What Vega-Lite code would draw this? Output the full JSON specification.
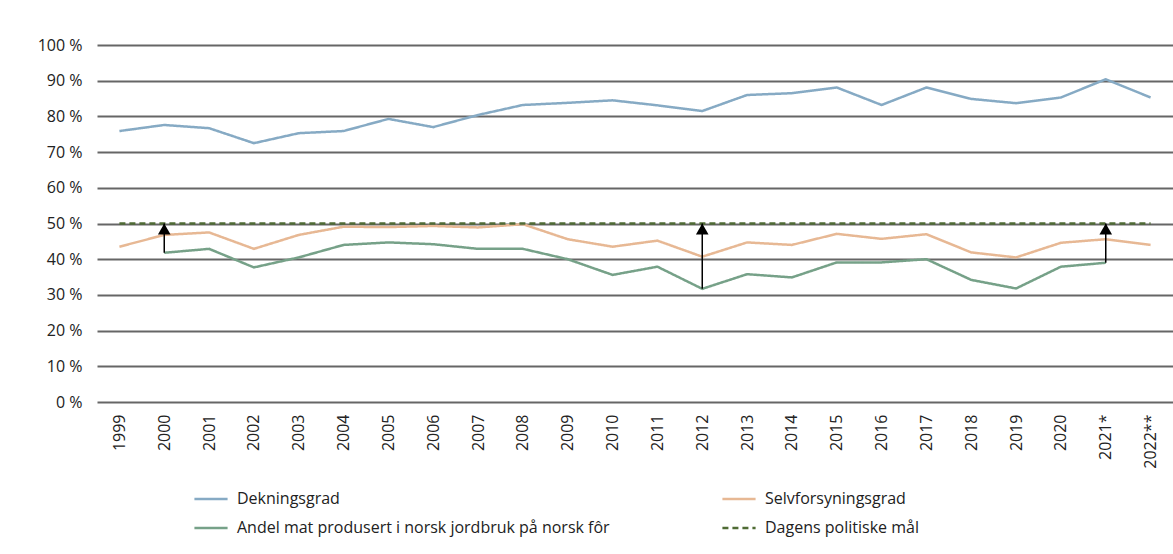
{
  "$schema": "https://vega.github.io/schema/vega-lite/v6.json",
  "autosize": "none",
  "width": 1076,
  "height": 357,
  "padding": {"left": 97, "top": 45, "right": 0, "bottom": 152},
  "background": "white",
  "config": {
    "font": "Open Sans",
    "view": {"stroke": null},
    "axis": {"labelFont": "Open Sans", "labelColor": "#222", "labelFontSize": 16, "labelOverlap": false},
    "axisY": {
      "title": null,
      "values": [0,10,20,30,40,50,60,70,80,90,100],
      "labelExpr": "datum.value + ' %'",
      "labelOverlap": false,
      "ticks": false,
      "domain": false,
      "labelPadding": 15,
      "grid": true,
      "gridColor": "#666666",
      "gridWidth": 2
    }
  },
  "datasets": {
    "serier": [
      {"aar": "1999", "serie": "Dekningsgrad", "verdi": 75.9},
      {"aar": "2000", "serie": "Dekningsgrad", "verdi": 77.6},
      {"aar": "2001", "serie": "Dekningsgrad", "verdi": 76.7},
      {"aar": "2002", "serie": "Dekningsgrad", "verdi": 72.5},
      {"aar": "2003", "serie": "Dekningsgrad", "verdi": 75.3},
      {"aar": "2004", "serie": "Dekningsgrad", "verdi": 75.9},
      {"aar": "2005", "serie": "Dekningsgrad", "verdi": 79.3},
      {"aar": "2006", "serie": "Dekningsgrad", "verdi": 77.0},
      {"aar": "2007", "serie": "Dekningsgrad", "verdi": 80.4},
      {"aar": "2008", "serie": "Dekningsgrad", "verdi": 83.2},
      {"aar": "2009", "serie": "Dekningsgrad", "verdi": 83.8},
      {"aar": "2010", "serie": "Dekningsgrad", "verdi": 84.5},
      {"aar": "2011", "serie": "Dekningsgrad", "verdi": 83.1},
      {"aar": "2012", "serie": "Dekningsgrad", "verdi": 81.5},
      {"aar": "2013", "serie": "Dekningsgrad", "verdi": 86.0},
      {"aar": "2014", "serie": "Dekningsgrad", "verdi": 86.5},
      {"aar": "2015", "serie": "Dekningsgrad", "verdi": 88.1},
      {"aar": "2016", "serie": "Dekningsgrad", "verdi": 83.2},
      {"aar": "2017", "serie": "Dekningsgrad", "verdi": 88.1},
      {"aar": "2018", "serie": "Dekningsgrad", "verdi": 84.9},
      {"aar": "2019", "serie": "Dekningsgrad", "verdi": 83.7},
      {"aar": "2020", "serie": "Dekningsgrad", "verdi": 85.3},
      {"aar": "2021*", "serie": "Dekningsgrad", "verdi": 90.4},
      {"aar": "2022**", "serie": "Dekningsgrad", "verdi": 85.3},
      {"aar": "1999", "serie": "Selvforsyningsgrad", "verdi": 43.5},
      {"aar": "2000", "serie": "Selvforsyningsgrad", "verdi": 46.8},
      {"aar": "2001", "serie": "Selvforsyningsgrad", "verdi": 47.5},
      {"aar": "2002", "serie": "Selvforsyningsgrad", "verdi": 42.9},
      {"aar": "2003", "serie": "Selvforsyningsgrad", "verdi": 46.8},
      {"aar": "2004", "serie": "Selvforsyningsgrad", "verdi": 49.1},
      {"aar": "2005", "serie": "Selvforsyningsgrad", "verdi": 49.0},
      {"aar": "2006", "serie": "Selvforsyningsgrad", "verdi": 49.3},
      {"aar": "2007", "serie": "Selvforsyningsgrad", "verdi": 48.9},
      {"aar": "2008", "serie": "Selvforsyningsgrad", "verdi": 49.8},
      {"aar": "2009", "serie": "Selvforsyningsgrad", "verdi": 45.6},
      {"aar": "2010", "serie": "Selvforsyningsgrad", "verdi": 43.5},
      {"aar": "2011", "serie": "Selvforsyningsgrad", "verdi": 45.2},
      {"aar": "2012", "serie": "Selvforsyningsgrad", "verdi": 40.7},
      {"aar": "2013", "serie": "Selvforsyningsgrad", "verdi": 44.7},
      {"aar": "2014", "serie": "Selvforsyningsgrad", "verdi": 44.0},
      {"aar": "2015", "serie": "Selvforsyningsgrad", "verdi": 47.1},
      {"aar": "2016", "serie": "Selvforsyningsgrad", "verdi": 45.7},
      {"aar": "2017", "serie": "Selvforsyningsgrad", "verdi": 47.0},
      {"aar": "2018", "serie": "Selvforsyningsgrad", "verdi": 41.9},
      {"aar": "2019", "serie": "Selvforsyningsgrad", "verdi": 40.5},
      {"aar": "2020", "serie": "Selvforsyningsgrad", "verdi": 44.6},
      {"aar": "2021*", "serie": "Selvforsyningsgrad", "verdi": 45.6},
      {"aar": "2022**", "serie": "Selvforsyningsgrad", "verdi": 44.0},
      {"aar": "2000", "serie": "Andel mat produsert i norsk jordbruk på norsk fôr", "verdi": 41.8},
      {"aar": "2001", "serie": "Andel mat produsert i norsk jordbruk på norsk fôr", "verdi": 42.9},
      {"aar": "2002", "serie": "Andel mat produsert i norsk jordbruk på norsk fôr", "verdi": 37.7},
      {"aar": "2003", "serie": "Andel mat produsert i norsk jordbruk på norsk fôr", "verdi": 40.5},
      {"aar": "2004", "serie": "Andel mat produsert i norsk jordbruk på norsk fôr", "verdi": 44.0},
      {"aar": "2005", "serie": "Andel mat produsert i norsk jordbruk på norsk fôr", "verdi": 44.7},
      {"aar": "2006", "serie": "Andel mat produsert i norsk jordbruk på norsk fôr", "verdi": 44.2},
      {"aar": "2007", "serie": "Andel mat produsert i norsk jordbruk på norsk fôr", "verdi": 42.9},
      {"aar": "2008", "serie": "Andel mat produsert i norsk jordbruk på norsk fôr", "verdi": 42.9},
      {"aar": "2009", "serie": "Andel mat produsert i norsk jordbruk på norsk fôr", "verdi": 40.0},
      {"aar": "2010", "serie": "Andel mat produsert i norsk jordbruk på norsk fôr", "verdi": 35.6},
      {"aar": "2011", "serie": "Andel mat produsert i norsk jordbruk på norsk fôr", "verdi": 37.9},
      {"aar": "2012", "serie": "Andel mat produsert i norsk jordbruk på norsk fôr", "verdi": 31.7},
      {"aar": "2013", "serie": "Andel mat produsert i norsk jordbruk på norsk fôr", "verdi": 35.8},
      {"aar": "2014", "serie": "Andel mat produsert i norsk jordbruk på norsk fôr", "verdi": 34.9},
      {"aar": "2015", "serie": "Andel mat produsert i norsk jordbruk på norsk fôr", "verdi": 39.1},
      {"aar": "2016", "serie": "Andel mat produsert i norsk jordbruk på norsk fôr", "verdi": 39.1},
      {"aar": "2017", "serie": "Andel mat produsert i norsk jordbruk på norsk fôr", "verdi": 40.0},
      {"aar": "2018", "serie": "Andel mat produsert i norsk jordbruk på norsk fôr", "verdi": 34.2},
      {"aar": "2019", "serie": "Andel mat produsert i norsk jordbruk på norsk fôr", "verdi": 31.8},
      {"aar": "2020", "serie": "Andel mat produsert i norsk jordbruk på norsk fôr", "verdi": 37.9},
      {"aar": "2021*", "serie": "Andel mat produsert i norsk jordbruk på norsk fôr", "verdi": 39.0},
      {"aar": "1999", "serie": "Dagens politiske mål", "verdi": 50},
      {"aar": "2000", "serie": "Dagens politiske mål", "verdi": 50},
      {"aar": "2001", "serie": "Dagens politiske mål", "verdi": 50},
      {"aar": "2002", "serie": "Dagens politiske mål", "verdi": 50},
      {"aar": "2003", "serie": "Dagens politiske mål", "verdi": 50},
      {"aar": "2004", "serie": "Dagens politiske mål", "verdi": 50},
      {"aar": "2005", "serie": "Dagens politiske mål", "verdi": 50},
      {"aar": "2006", "serie": "Dagens politiske mål", "verdi": 50},
      {"aar": "2007", "serie": "Dagens politiske mål", "verdi": 50},
      {"aar": "2008", "serie": "Dagens politiske mål", "verdi": 50},
      {"aar": "2009", "serie": "Dagens politiske mål", "verdi": 50},
      {"aar": "2010", "serie": "Dagens politiske mål", "verdi": 50},
      {"aar": "2011", "serie": "Dagens politiske mål", "verdi": 50},
      {"aar": "2012", "serie": "Dagens politiske mål", "verdi": 50},
      {"aar": "2013", "serie": "Dagens politiske mål", "verdi": 50},
      {"aar": "2014", "serie": "Dagens politiske mål", "verdi": 50},
      {"aar": "2015", "serie": "Dagens politiske mål", "verdi": 50},
      {"aar": "2016", "serie": "Dagens politiske mål", "verdi": 50},
      {"aar": "2017", "serie": "Dagens politiske mål", "verdi": 50},
      {"aar": "2018", "serie": "Dagens politiske mål", "verdi": 50},
      {"aar": "2019", "serie": "Dagens politiske mål", "verdi": 50},
      {"aar": "2020", "serie": "Dagens politiske mål", "verdi": 50},
      {"aar": "2021*", "serie": "Dagens politiske mål", "verdi": 50},
      {"aar": "2022**", "serie": "Dagens politiske mål", "verdi": 50}
    ],
    "piler": [
      {"aar": "2000", "fra": 41.8, "til": 50},
      {"aar": "2012", "fra": 31.7, "til": 50},
      {"aar": "2021*", "fra": 39.0, "til": 50}
    ]
  },
  "encoding": {
    "x": {
      "field": "aar",
      "type": "ordinal",
      "sort": null,
      "scale": {"domain": ["1999","2000","2001","2002","2003","2004","2005","2006","2007","2008","2009","2010","2011","2012","2013","2014","2015","2016","2017","2018","2019","2020","2021*","2022**"], "type": "point", "padding": 0.5},
      "axis": {"title": null, "labelAngle": -90, "ticks": false, "domain": false, "labelPadding": 12, "grid": false}
    }
  },
  "layer": [
    {
      "data": {"name": "serier"},
      "mark": {"type": "line", "strokeWidth": 2.5},
      "encoding": {
        "y": {
          "field": "verdi",
          "type": "quantitative",
          "scale": {"domain": [0, 100], "nice": false},
          "axis": {"title": null}
        },
        "color": {
          "field": "serie",
          "type": "nominal",
          "scale": {
            "domain": ["Dekningsgrad","Andel mat produsert i norsk jordbruk på norsk fôr","Selvforsyningsgrad","Dagens politiske mål"],
            "range": ["#86aac4","#76a188","#e7b894","#4f6b34"]
          },
          "legend": {
            "title": null,
            "orient": "none",
            "legendX": 96,
            "legendY": 436,
            "columns": 2,
            "columnPadding": 107,
            "rowPadding": 3,
            "symbolType": "stroke",
            "symbolSize": 1100,
            "symbolStrokeWidth": 2.5,
            "labelFont": "Open Sans",
            "labelFontSize": 16,
            "labelColor": "#222",
            "labelLimit": 600,
            "labelOffset": 8
          }
        },
        "strokeDash": {
          "field": "serie",
          "type": "nominal",
          "scale": {
            "domain": ["Dekningsgrad","Andel mat produsert i norsk jordbruk på norsk fôr","Selvforsyningsgrad","Dagens politiske mål"],
            "range": [[1,0],[1,0],[1,0],[6,4]]
          },
          "legend": null
        }
      }
    },
    {
      "data": {"name": "piler"},
      "mark": {"type": "rule", "color": "#000000", "strokeWidth": 1.5},
      "encoding": {
        "y": {"field": "fra", "type": "quantitative", "axis": {"title": null}},
        "y2": {"field": "til"}
      }
    },
    {
      "data": {"name": "piler"},
      "mark": {"type": "point", "shape": "triangle-up", "filled": true, "color": "#000000", "opacity": 1, "size": 160, "yOffset": 5.5},
      "encoding": {
        "y": {"field": "til", "type": "quantitative", "axis": {"title": null}}
      }
    }
  ]
}
